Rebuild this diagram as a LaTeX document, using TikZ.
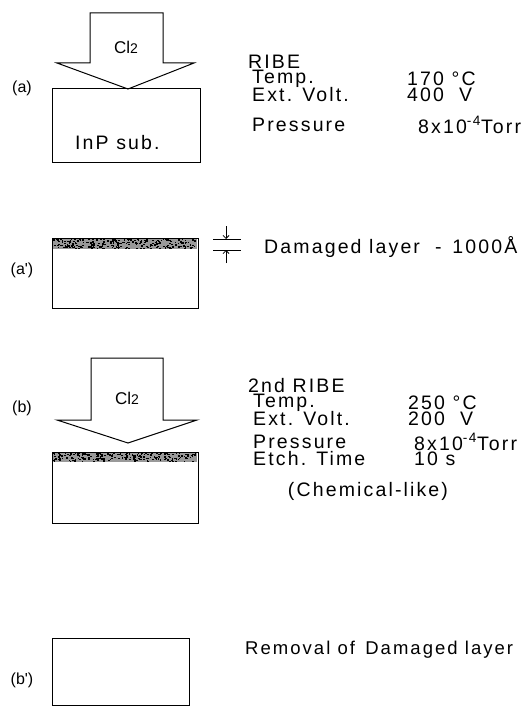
\documentclass[tikz,border=0pt]{standalone}
\usepackage{fontspec}
\setmainfont[LetterSpace=11]{Liberation Sans}
\newfontfamily\plainsf{Liberation Sans}
\usetikzlibrary{arrows.meta}
\begin{document}
\begin{tikzpicture}[x=1pt,y=-1pt,
  txt/.style={anchor=west,inner sep=0pt,font=\fontsize{19.5}{20}\selectfont},
  lbl/.style={anchor=center,inner sep=0pt,font=\plainsf\fontsize{16}{18}\selectfont},
  gaslbl/.style={anchor=center,inner sep=0pt,font=\plainsf\fontsize{17}{18}\selectfont},
  subbox/.style={draw,line width=1pt,rectangle,inner sep=0pt},
  gasarrow/.style={draw,line width=1pt,fill=white,line join=miter},
  band/.style={fill=black!40},
  dimline/.style={line width=0.9pt},
  dimarrow/.style={line width=0.8pt,-{Straight Barb[length=3pt,width=6pt]}}]
\useasboundingbox[fill=white] (0,0) rectangle (529,706);

% ---------- (a) ----------
\node[lbl] (la) at (22,88) {(a)};
\draw[gasarrow] (90,13) -- (163,13) -- (163,63) -- (194,63) -- (128,89) -- (57,63) -- (90,63) -- cycle;
\node[gaslbl] (cla) at (126,47) {Cl{\fontsize{14}{14}\selectfont 2}};
\node[subbox,minimum width=148pt,minimum height=73pt] (boxa) at (126,125.5) {};
\node[txt] (inp) at (75,143) {InP sub.};

\node[txt] (ribe) at (248,62) {RIBE};
\node[txt] (tempa) at (252,79) {Temp.};
\node[txt] (tva) at (407,79) {170 °C};
\node[txt] (evla) at (252,95) {Ext. Volt.};
\node[txt] (eva) at (407,95) {400\ \ V};
\node[txt] (pra) at (252,125) {Pressure};
\node[txt] (pva) at (418,125) {8x10\textsuperscript{-4}Torr};

% ---------- (a') ----------
\node[lbl] (lap) at (22,270) {(a')};
\fill[band] (53,238) rectangle (197,249);
\pgfmathsetseed{7}
\foreach \i in {1,...,260}{
  \pgfmathsetmacro\rx{53+143*rnd}
  \pgfmathsetmacro\ry{238+10*rnd}
  \fill[black] (\rx,\ry) rectangle ++(1.6,1.3);
}
\node[subbox,minimum width=146pt,minimum height=70pt] (boxap) at (125,273) {};
\coordinate (d1l) at (213,239);
\coordinate (d1r) at (241,239);
\coordinate (d2l) at (213,250);
\coordinate (d2r) at (241,250);
\coordinate (ua) at (226,226);
\coordinate (ub) at (226,239);
\coordinate (la2) at (226,263);
\coordinate (lb2) at (226,250);
\draw[dimline] (d1l) -- (d1r);
\draw[dimline] (d2l) -- (d2r);
\draw[dimarrow] (ua) -- (ub);
\draw[dimarrow] (la2) -- (lb2);
\node[txt] (dmg) at (264,247) {Damaged layer\ \ -\ \,1000Å};

% ---------- (b) ----------
\node[lbl] (lb) at (22,408) {(b)};
\draw[gasarrow] (91,358) -- (163,358) -- (163,420) -- (197,420) -- (128,443) -- (57,420) -- (91,420) -- cycle;
\node[gaslbl] (clb) at (127,398) {Cl{\fontsize{14}{14}\selectfont 2}};
\fill[band] (53,452) rectangle (197,462);
\pgfmathsetseed{11}
\foreach \i in {1,...,240}{
  \pgfmathsetmacro\rx{53+143*rnd}
  \pgfmathsetmacro\ry{452+9*rnd}
  \fill[black] (\rx,\ry) rectangle ++(1.6,1.3);
}
\node[subbox,minimum width=146pt,minimum height=71pt] (boxb) at (125,487.5) {};

\node[txt] (ribe2) at (248,386) {2nd RIBE};
\node[txt] (tempb) at (253,403) {Temp.};
\node[txt] (tvb) at (408,403) {250 °C};
\node[txt] (evlb) at (253,419) {Ext. Volt.};
\node[txt] (evb) at (408,419) {200\ \ V};
\node[txt] (prb) at (253,442) {Pressure};
\node[txt] (pvb) at (414,442) {8x10\textsuperscript{-4}Torr};
\node[txt] (etb) at (253,459) {Etch. Time};
\node[txt] (etv) at (414,459) {10 s};
\node[txt,anchor=center] (chem) at (368,491) {(Chemical-like)};

% ---------- (b') ----------
\node[lbl] (lbp) at (22,680) {(b')};
\node[subbox,minimum width=137pt,minimum height=67pt] (boxbp) at (120.5,671.5) {};
\node[txt,font=\fontsize{18.5}{20}\selectfont] (rem) at (245,650) {Removal of\ \,Damaged layer};
\end{tikzpicture}
\end{document}
